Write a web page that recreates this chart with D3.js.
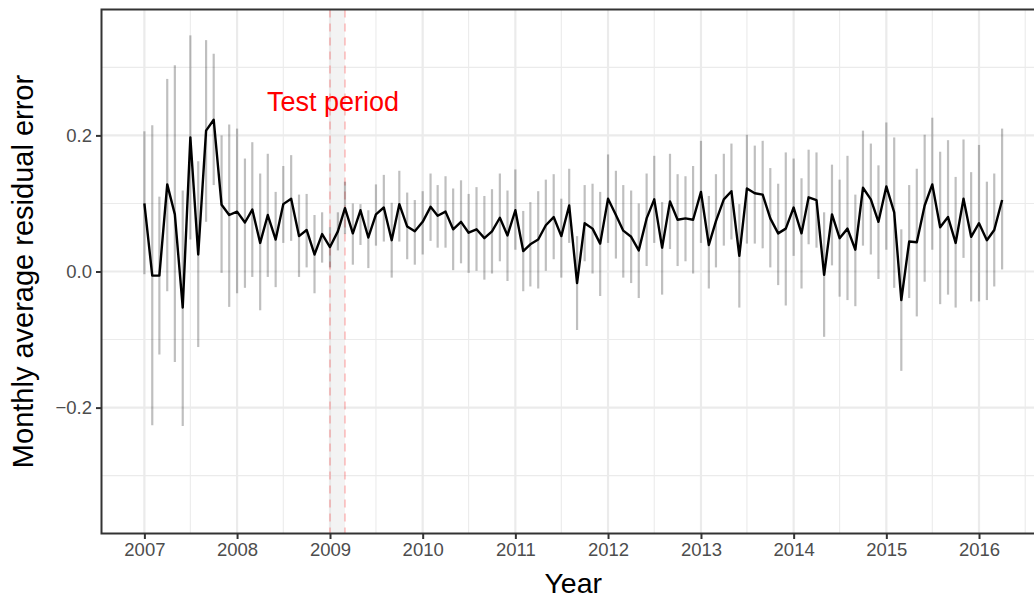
<!DOCTYPE html>
<html>
<head>
<meta charset="utf-8">
<script src="https://cdn.jsdelivr.net/npm/d3@7"></script>
<style>
  body { margin: 0; background: #fff; }
  svg { display: block; font-family: "Liberation Sans", Arial, sans-serif; }
</style>
</head>
<body>
<div id="container"></div>
<script>
// monthly series, first month = Jan 2007
const startMonth = "2007-01-01";
const meanErr = [
  0.100, -0.006, -0.006, 0.128, 0.084, -0.053, 0.197, 0.025, 0.207, 0.223, 0.098, 0.083,
  0.088, 0.072, 0.091, 0.042, 0.083, 0.047, 0.099, 0.107, 0.052, 0.061, 0.025, 0.055,
  0.036, 0.059, 0.093, 0.056, 0.090, 0.050, 0.084, 0.094, 0.046, 0.099, 0.066, 0.059,
  0.073, 0.095, 0.082, 0.088, 0.062, 0.073, 0.057, 0.062, 0.049, 0.059, 0.079, 0.053,
  0.090, 0.030, 0.040, 0.047, 0.068, 0.080, 0.052, 0.097, -0.017, 0.071, 0.063, 0.041,
  0.107, 0.083, 0.060, 0.051, 0.031, 0.078, 0.106, 0.035, 0.103, 0.076, 0.078, 0.076,
  0.117, 0.039, 0.074, 0.106, 0.118, 0.023, 0.122, 0.115, 0.113, 0.078, 0.056, 0.063,
  0.094, 0.056, 0.109, 0.105, -0.005, 0.084, 0.049, 0.063, 0.032, 0.123, 0.106, 0.073,
  0.125, 0.087, -0.042, 0.044, 0.043, 0.097, 0.128, 0.065, 0.080, 0.042, 0.107, 0.051,
  0.071, 0.046, 0.061, 0.105
];
const upperErr = [
  0.206, 0.215, 0.110, 0.283, 0.303, 0.119, 0.347, 0.162, 0.340, 0.320, 0.200, 0.216,
  0.210, 0.166, 0.190, 0.144, 0.173, 0.117, 0.155, 0.171, 0.113, 0.114, 0.083, 0.087,
  0.065, 0.087, 0.132, 0.100, 0.099, 0.090, 0.128, 0.142, 0.101, 0.148, 0.116, 0.105,
  0.118, 0.144, 0.127, 0.140, 0.122, 0.134, 0.114, 0.124, 0.111, 0.121, 0.144, 0.119,
  0.150, 0.089, 0.102, 0.118, 0.135, 0.143, 0.107, 0.151, 0.052, 0.127, 0.129, 0.117,
  0.172, 0.148, 0.127, 0.119, 0.100, 0.144, 0.170, 0.102, 0.173, 0.143, 0.140, 0.155,
  0.192, 0.111, 0.143, 0.173, 0.188, 0.099, 0.201, 0.185, 0.192, 0.152, 0.129, 0.175,
  0.166, 0.137, 0.179, 0.175, 0.087, 0.157, 0.135, 0.170, 0.113, 0.207, 0.188, 0.156,
  0.219, 0.197, 0.062, 0.127, 0.151, 0.201, 0.226, 0.176, 0.193, 0.139, 0.194, 0.146,
  0.186, 0.132, 0.144, 0.210
];
const lowerErr = [
  -0.004, -0.226, -0.122, -0.029, -0.133, -0.227, 0.047, -0.111, 0.073, 0.127, -0.002, -0.052,
  -0.032, -0.024, -0.008, -0.057, -0.008, -0.023, 0.042, 0.045, -0.008, 0.006, -0.032, 0.013,
  0.006, 0.031, 0.055, 0.010, 0.039, 0.005, 0.038, 0.044, -0.009, 0.044, 0.018, 0.010,
  0.025, 0.045, 0.035, 0.035, 0.002, 0.012, -0.002, 0.001, -0.012, -0.003, 0.015, -0.014,
  0.032, -0.029, -0.022, -0.025, 0.001, 0.018, -0.009, 0.042, -0.086, 0.015, -0.003, -0.036,
  0.042, 0.019, -0.009, -0.017, -0.039, 0.008, 0.042, -0.034, 0.033, 0.008, 0.015, -0.003,
  0.042, -0.025, 0.006, 0.038, 0.047, -0.053, 0.041, 0.041, 0.034, 0.006, -0.020, -0.050,
  0.023, -0.025, 0.040, 0.035, -0.096, 0.009, -0.037, -0.042, -0.051, 0.038, 0.025, -0.011,
  0.032, -0.024, -0.146, -0.039, -0.066, -0.015, 0.032, -0.048, -0.034, -0.053, 0.020, -0.044,
  -0.044, -0.042, -0.022, 0.003
];
const yMajor = [-0.2, 0.0, 0.2];
const yMinor = [-0.3, -0.1, 0.1, 0.3];
const yLimits = [-0.35, 0.35];
const testPeriod = ["2009-01-01", "2009-03-01"];
const testLabel = {text: "Test period", date: "2009-01-13", value: 0.25};

const width = 1034, height = 599;
const margin = {top: 9.5, right: -11, bottom: 65.5, left: 101.5};

const dates = meanErr.map((d, i) => d3.utcMonth.offset(new Date(startMonth), i));
const data = dates.map((d, i) => ({date: d, value: meanErr[i], lo: lowerErr[i], hi: upperErr[i]}));

// ggplot style 5% expansion
const t0 = +dates[0], t1 = +dates[dates.length - 1];
const padT = (t1 - t0) * 0.05;
const x = d3.scaleUtc()
    .domain([new Date(t0 - padT), new Date(t1 + padT)])
    .range([margin.left, width - margin.right]);

const padY = (yLimits[1] - yLimits[0]) * 0.05;
const y = d3.scaleLinear()
    .domain([yLimits[0] - padY, yLimits[1] + padY])
    .range([height - margin.bottom, margin.top]);

const svg = d3.create("svg")
    .attr("width", width)
    .attr("height", height);

const pl = margin.left, pr = width - margin.right, pt = margin.top, pb = height - margin.bottom;

// grid
const yearTicks = d3.utcYear.range(new Date("2007-01-01"), new Date("2017-01-01"));
const halfTicks = yearTicks.map(d => d3.utcMonth.offset(d, 6)).filter(d => x(d) > pl && x(d) < pr);

svg.append("g").selectAll("line").data(yMinor).join("line")
    .attr("x1", pl).attr("x2", pr)
    .attr("y1", d => y(d)).attr("y2", d => y(d))
    .attr("stroke", "#EBEBEB").attr("stroke-width", 1.1);
svg.append("g").selectAll("line").data(halfTicks).join("line")
    .attr("x1", d => x(d)).attr("x2", d => x(d))
    .attr("y1", pt).attr("y2", pb)
    .attr("stroke", "#EBEBEB").attr("stroke-width", 1.1);
svg.append("g").selectAll("line").data(yMajor).join("line")
    .attr("x1", pl).attr("x2", pr)
    .attr("y1", d => y(d)).attr("y2", d => y(d))
    .attr("stroke", "#EBEBEB").attr("stroke-width", 2.2);
svg.append("g").selectAll("line").data(yearTicks).join("line")
    .attr("x1", d => x(d)).attr("x2", d => x(d))
    .attr("y1", pt).attr("y2", pb)
    .attr("stroke", "#EBEBEB").attr("stroke-width", 2.2);

// test period band
const tp = testPeriod.map(d => new Date(d));
svg.append("rect")
    .attr("x", x(tp[0])).attr("y", pt)
    .attr("width", x(tp[1]) - x(tp[0])).attr("height", pb - pt)
    .attr("fill", "#E5E5E5").attr("fill-opacity", 0.45);
svg.append("g").selectAll("line").data(tp).join("line")
    .attr("x1", d => x(d)).attr("x2", d => x(d))
    .attr("y1", pt).attr("y2", pb)
    .attr("stroke", "#FF0000").attr("stroke-opacity", 0.2)
    .attr("stroke-width", 2).attr("stroke-dasharray", "8,6");

// error bars
svg.append("g").selectAll("line").data(data).join("line")
    .attr("x1", d => x(d.date)).attr("x2", d => x(d.date))
    .attr("y1", d => y(d.lo)).attr("y2", d => y(d.hi))
    .attr("stroke", "#000").attr("stroke-opacity", 0.25).attr("stroke-width", 2.2);

// mean line
svg.append("path")
    .datum(data)
    .attr("fill", "none")
    .attr("stroke", "#000")
    .attr("stroke-width", 2.4)
    .attr("stroke-linejoin", "round")
    .attr("d", d3.line().x(d => x(d.date)).y(d => y(d.value)));

svg.append("text")
    .attr("x", x(new Date(testLabel.date)))
    .attr("y", y(testLabel.value))
    .attr("dy", "0.35em")
    .attr("text-anchor", "middle")
    .attr("font-size", 27)
    .attr("fill", "#FF0000")
    .text(testLabel.text);

// panel border
svg.append("rect")
    .attr("x", pl).attr("y", pt)
    .attr("width", pr - pl).attr("height", pb - pt)
    .attr("fill", "none").attr("stroke", "#333333").attr("stroke-width", 2);

// axes
const xAxis = svg.append("g")
    .attr("transform", `translate(0, ${pb})`)
    .call(d3.axisBottom(x).tickValues(yearTicks.filter(d => x(d) < pr)).tickFormat(d3.utcFormat("%Y")).tickSize(5.5).tickPadding(4));
xAxis.select(".domain").remove();
xAxis.selectAll("line").attr("stroke", "#333333").attr("stroke-width", 2);
xAxis.selectAll("text").attr("font-size", 18.5).attr("fill", "#4D4D4D").attr("font-family", null);

const fmtY = d => d3.format(".1f")(d).replace("-", "\u2212");
const yAxis = svg.append("g")
    .attr("transform", `translate(${pl}, 0)`)
    .call(d3.axisLeft(y).tickValues(yMajor).tickFormat(fmtY).tickSize(5.5).tickPadding(4));
yAxis.select(".domain").remove();
yAxis.selectAll("line").attr("stroke", "#333333").attr("stroke-width", 2);
yAxis.selectAll("text").attr("font-size", 18.5).attr("fill", "#4D4D4D").attr("font-family", null);

svg.append("text")
    .attr("x", (pl + pr) / 2)
    .attr("y", 593)
    .attr("text-anchor", "middle")
    .attr("font-size", 28.5)
    .attr("fill", "#000")
    .text("Year");

svg.append("text")
    .attr("transform", `translate(33, ${(pt + pb) / 2}) rotate(-90)`)
    .attr("text-anchor", "middle")
    .attr("font-size", 29)
    .attr("fill", "#000")
    .text("Monthly average residual error");

document.getElementById("container").append(svg.node());
</script>
</body>
</html>
